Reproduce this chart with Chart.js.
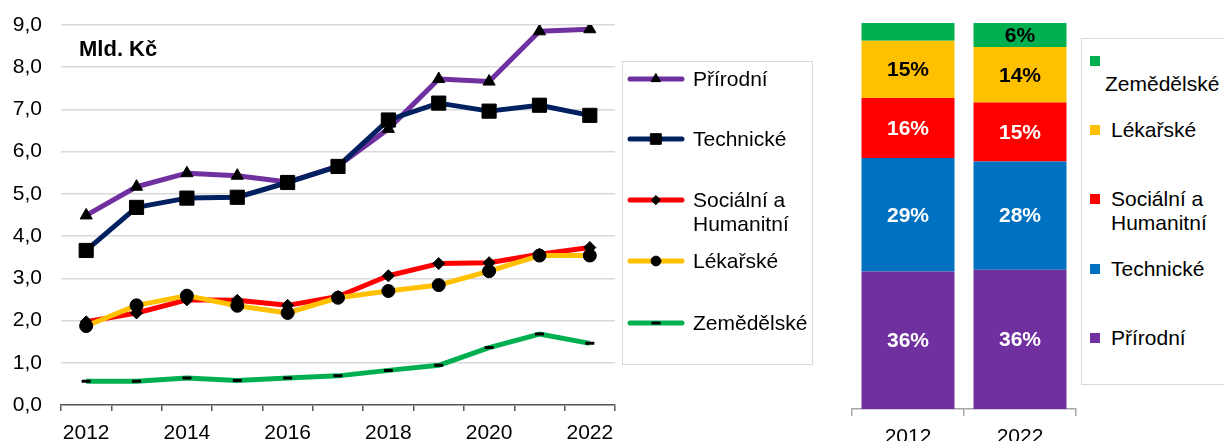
<!DOCTYPE html>
<html>
<head>
<meta charset="utf-8">
<script src="https://cdn.jsdelivr.net/npm/chart.js@4"></script>
<style>
  body { margin: 0; background: #fff; font-family: "Liberation Sans", Arial, sans-serif; }
  #wrap { position: relative; width: 1224px; height: 441px; overflow: hidden; }
  canvas { position: absolute; top: 0; }
  .box { position: absolute; border: 1px solid #d9d9d9; }
  .txt { position: absolute; font-size: 21px; line-height: 24px; color: #000; white-space: nowrap; }
  .sq { position: absolute; width: 10px; height: 10px; }
  #unit { position: absolute; left: 79px; top: 36px; font-weight: bold; font-size: 22px; }
</style>
</head>
<body>
<div id="wrap">
  <canvas id="lineChart" width="626" height="441" style="left:0"></canvas>
  <canvas id="barChart" width="240" height="441" style="left:840px"></canvas>
  <div id="unit">Mld. Kč</div>
  <div class="box" style="left:622px;top:61px;width:189px;height:302px"></div>
  <div class="box" style="left:1081px;top:38px;width:160px;height:345px"></div>
  <div id="legends"></div>
</div>
<script>
// data
const years = ['2012', '2013', '2014', '2015', '2016', '2017', '2018', '2019', '2020', '2021', '2022'];
const prirodni = [4.49, 5.17, 5.49, 5.43, 5.28, 5.66, 6.54, 7.72, 7.66, 8.85, 8.90];
const technicke = [3.66, 4.68, 4.90, 4.92, 5.27, 5.65, 6.75, 7.15, 6.96, 7.10, 6.86];
const socialni = [1.97, 2.18, 2.49, 2.48, 2.36, 2.57, 3.06, 3.35, 3.37, 3.57, 3.73];
const lekarske = [1.87, 2.36, 2.59, 2.35, 2.18, 2.54, 2.70, 2.84, 3.17, 3.54, 3.54];
const zemedelske = [0.56, 0.56, 0.64, 0.58, 0.64, 0.69, 0.82, 0.94, 1.36, 1.68, 1.46];

// shares in %
const shareYears = ['2012', '2022'];
const sharePrirodni = [35.6, 36.1];
const shareTechnicke = [29.4, 28.0];
const shareSocialni = [15.6, 15.3];
const shareLekarske = [14.8, 14.4];
const shareZemedelske = [4.6, 6.2];

const yTicks = [0, 1, 2, 3, 4, 5, 6, 7, 8, 9];

const FONT = '"Liberation Sans", Arial, sans-serif';

const series = [
  { label: 'Přírodní', data: prirodni, share: sharePrirodni, line: '#7030a0', fill: '#7030a0', point: 'triangle', r: 7, text: '#fff' },
  { label: 'Technické', data: technicke, share: shareTechnicke, line: '#002060', fill: '#0070c0', point: 'rect', r: 10, text: '#fff' },
  { label: 'Sociální a Humanitní', data: socialni, share: shareSocialni, line: '#ff0000', fill: '#ff0000', point: 'rectRot', r: 6, text: '#fff' },
  { label: 'Lékařské', data: lekarske, share: shareLekarske, line: '#ffc000', fill: '#ffc000', point: 'circle', r: 6.5, text: '#000' },
  { label: 'Zemědělské', data: zemedelske, share: shareZemedelske, line: '#00b050', fill: '#00b050', point: 'line', r: 4.5, text: '#000' }
];

// line chart
new Chart(document.getElementById('lineChart'), {
  type: 'line',
  data: {
    labels: years,
    datasets: series.map((s, i) => ({
      label: s.label,
      data: s.data,
      borderColor: s.line,
      borderWidth: 5,
      borderJoinStyle: 'round',
      tension: 0,
      order: series.length - i,
      pointStyle: s.point,
      pointRadius: s.r,
      pointBackgroundColor: '#000',
      pointBorderColor: '#000',
      pointBorderWidth: s.point === 'line' ? 3 : 1
    }))
  },
  options: {
    responsive: false,
    animation: false,
    layout: { padding: { top: 25, right: 5, left: 0, bottom: 0 } },
    plugins: { legend: { display: false }, tooltip: { enabled: false } },
    scales: {
      x: {
        offset: true,
        grid: { display: true, drawOnChartArea: false, offset: true, color: '#595959', lineWidth: 1.5, tickLength: 6 },
        border: { color: '#595959', width: 1.5 },
        ticks: {
          autoSkip: false, maxRotation: 0, padding: 10, color: '#000',
          font: { family: FONT, size: 21 },
          callback: function (v, i) { return i % 2 === 0 ? this.getLabelForValue(v) : ''; }
        },
        afterFit: (s) => { s.height = 36; s.paddingLeft = 0; s.paddingRight = 0; }
      },
      y: {
        min: 0, max: 9,
        afterBuildTicks: (s) => { s.ticks = yTicks.map(v => ({ value: v })); },
        grid: { color: '#d9d9d9', lineWidth: 1.5, drawTicks: false },
        border: { display: false },
        ticks: {
          padding: 19, color: '#000',
          font: { family: FONT, size: 21 },
          callback: (v) => v.toFixed(1).replace('.', ',')
        },
        afterFit: (s) => { s.width = 61; s.paddingTop = 0; s.paddingBottom = 0; }
      }
    }
  }
});

// labels inside the stacked bars
const barLabels = {
  id: 'barLabels',
  afterDatasetsDraw(chart) {
    const ctx = chart.ctx;
    chart.data.datasets.forEach((ds, i) => {
      chart.getDatasetMeta(i).data.forEach((bar, j) => {
        const v = ds.data[j];
        if (v < 5) return;
        ctx.save();
        ctx.font = 'bold 21px ' + FONT;
        ctx.fillStyle = ds.labelColor;
        ctx.textAlign = 'center';
        ctx.textBaseline = 'middle';
        ctx.fillText(Math.round(v) + '%', bar.x, (bar.y + bar.base) / 2 + 1);
        ctx.restore();
      });
    });
  }
};

new Chart(document.getElementById('barChart'), {
  type: 'bar',
  data: {
    labels: shareYears,
    datasets: series.map(s => ({
      label: s.label,
      data: s.share,
      backgroundColor: s.fill,
      labelColor: s.text,
      borderWidth: 0,
      barPercentage: 0.83,
      categoryPercentage: 1
    }))
  },
  options: {
    responsive: false,
    animation: false,
    layout: { padding: { top: 23, right: 4, left: 12, bottom: 0 } },
    plugins: { legend: { display: false }, tooltip: { enabled: false } },
    scales: {
      x: {
        stacked: true,
        offset: true,
        grid: { display: true, drawOnChartArea: false, offset: true, color: '#a6a6a6', lineWidth: 1.5, tickLength: 7 },
        border: { color: '#a6a6a6', width: 1.5 },
        ticks: { maxRotation: 0, padding: 9, color: '#000', font: { family: FONT, size: 21 } },
        afterFit: (s) => { s.height = 32; s.paddingLeft = 0; s.paddingRight = 0; }
      },
      y: { stacked: true, min: 0, max: 100, display: false }
    }
  },
  plugins: [barLabels]
});

// legends
const legends = document.getElementById('legends');
function addText(text, left, cy) {
  const d = document.createElement('div');
  d.className = 'txt';
  d.style.left = left + 'px';
  d.style.top = (cy - 12) + 'px';
  d.textContent = text;
  legends.appendChild(d);
}

// left legend: line samples with the series marker
const leftY = [79, 139, 200, 261, 323];
series.forEach((s, i) => {
  const c = document.createElement('canvas');
  c.width = 60; c.height = 20;
  c.style.left = '626px';
  c.style.top = (leftY[i] - 10) + 'px';
  legends.appendChild(c);
  const ctx = c.getContext('2d');
  ctx.strokeStyle = s.line;
  ctx.lineWidth = 5;
  ctx.lineCap = 'round';
  ctx.beginPath(); ctx.moveTo(4, 10); ctx.lineTo(56, 10); ctx.stroke();
  ctx.fillStyle = '#000';
  ctx.strokeStyle = '#000';
  ctx.lineWidth = s.point === 'line' ? 3 : 1;
  Chart.helpers.drawPoint(ctx, { pointStyle: s.point, radius: s.r * 0.75, rotation: 0, borderWidth: ctx.lineWidth }, 30, 10);
  const parts = s.label === 'Sociální a Humanitní' ? ['Sociální a', 'Humanitní'] : [s.label];
  parts.forEach((p, k) => addText(p, 693, leftY[i] + k * 24));
});

// right legend: reversed order, squares
const rightSq = { 'Zemědělské': 56, 'Lékařské': 125, 'Sociální a Humanitní': 194, 'Technické': 264, 'Přírodní': 333 };
series.slice().reverse().forEach(s => {
  const top = rightSq[s.label];
  const q = document.createElement('div');
  q.className = 'sq';
  q.style.left = '1090px';
  q.style.top = top + 'px';
  q.style.background = s.fill;
  legends.appendChild(q);
  if (s.label === 'Zemědělské') {
    addText(s.label, 1105, 84);
  } else if (s.label === 'Sociální a Humanitní') {
    addText('Sociální a', 1111, top + 5);
    addText('Humanitní', 1111, top + 29);
  } else {
    addText(s.label, 1111, top + 5);
  }
});
</script>
</body>
</html>
